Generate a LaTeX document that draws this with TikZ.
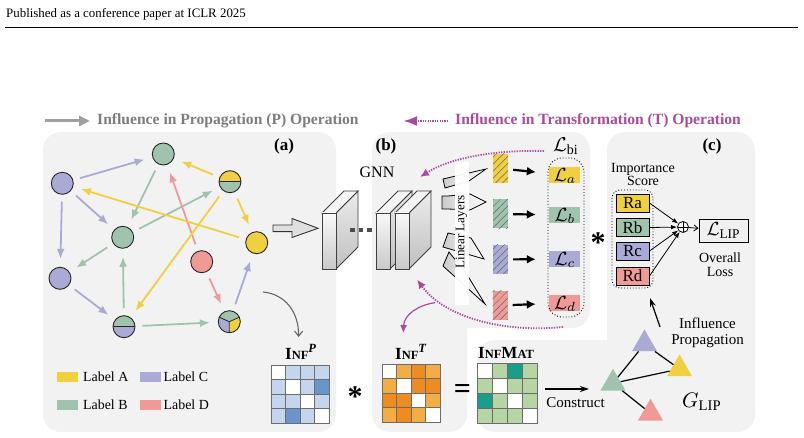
\documentclass[tikz,border=0pt]{standalone}
\usepackage{graphicx}
\usepackage{fontspec}
\setmainfont{Liberation Serif}
\usetikzlibrary{arrows.meta,shapes.geometric,patterns.meta}

\definecolor{cA}{RGB}{240,208,64}
\definecolor{cB}{RGB}{159,195,173}
\definecolor{cC}{RGB}{170,170,214}
\definecolor{cD}{RGB}{240,154,152}
\definecolor{panel}{RGB}{242,242,242}
\definecolor{mag}{RGB}{170,75,155}
\definecolor{ltxt}{RGB}{125,125,125}
\definecolor{bl}{RGB}{197,213,238}
\definecolor{bd}{RGB}{106,148,204}
\definecolor{ol}{RGB}{242,173,68}
\definecolor{od}{RGB}{238,140,34}
\definecolor{gl}{RGB}{181,213,165}
\definecolor{gd}{RGB}{26,158,140}

\newcommand\fsz[1]{\fontsize{#1}{#1}\selectfont}
\newcommand\bigmath[2]{{\fsz{10}\scalebox{#1}{$#2$}}}
\newcommand\drawmat[4]{%
  \foreach \cc [count=\k from 0] in {#4} {%
    \pgfmathtruncatemacro\rr{div(\k,4)}%
    \pgfmathtruncatemacro\qq{mod(\k,4)}%
    \filldraw[fill=\cc, draw=gray!85!black, line width=0.7pt] ({#1+\qq*#3},{#2+\rr*#3}) rectangle ++(#3,#3);%
  }}
\newcommand\gnnslab[1]{%
  \path[draw=black!75, line width=0.8pt, top color=gray!15, bottom color=gray!50] ({#1+14},213) -- ({#1+36},191) -- ({#1+36},247) -- ({#1+14},269) -- cycle;
  \path[draw=black!75, line width=0.8pt, fill=gray!8] (#1,213) -- ({#1+22},191) -- ({#1+36},191) -- ({#1+14},213) -- cycle;
  \path[draw=black!75, line width=0.8pt, top color=gray!5, bottom color=gray!42] (#1,213) rectangle ({#1+14},269);
}
\newcommand\myINF{{\fsz{17}I}{\fsz{12.5}NF}}

\begin{document}
\begin{tikzpicture}[x=1pt,y=-1pt,
  gnode/.style={circle, minimum size=22pt, inner sep=0, draw=black!85, line width=0.9pt},
  ed/.style={line width=1.8pt, -{Latex[length=10pt,width=8pt]}, shorten <=7pt, shorten >=8pt},
  hbox/.style={minimum width=15pt, minimum height=29pt, inner sep=0,
     postaction={pattern={Lines[angle=45,distance=5pt,line width=0.5pt]}, pattern color=gray!80!black}},
  lbox/.style={minimum width=31pt, minimum height=16pt, inner sep=0},
  rbox/.style={draw=black, line width=0.9pt, minimum width=33pt, minimum height=18pt, inner sep=0, font=\fsz{17}},
  bigarr/.style={line width=2.2pt, -{Latex[length=9pt,width=9pt]}, shorten <=5pt, shorten >=13pt},
  tri/.style={regular polygon, regular polygon sides=3, minimum size=29pt, inner sep=0},
  magd/.style={mag, line width=1.8pt, dash pattern=on 1.3pt off 1.3pt, -{Latex[length=9pt,width=8pt]}},
  wedge/.style={draw=black, line width=0.8pt, left color=gray!40, right color=white},
  ttl/.style={font=\fsz{15.6}\bfseries, anchor=west, inner sep=0}
]
\useasboundingbox (0,0) rectangle (804,438);
\fill[white] (0,0) rectangle (804,438);

% header
\node[anchor=base west, inner sep=0, font=\fsz{12.9}] (hdr) at (6,18) {Published as a conference paper at ICLR 2025};
\draw[line width=0.9pt] (5,27) -- (798,27);

% top legends
\coordinate (pa1) at (45,121); \coordinate (pa2) at (90,121);
\draw[gray!75, line width=3pt, -{Triangle[length=11pt,width=10pt]}] (pa1) -- (pa2);
\node[ttl, text=ltxt] (ptitle) at (97,121) {Influence in Propagation (P) Operation};
\coordinate (ta1) at (448,121); \coordinate (ta2) at (403,121);
\draw[mag, line width=2.4pt, dash pattern=on 1.2pt off 1.2pt, -{Latex[length=14pt,width=10pt]}] (ta1) -- (ta2);
\node[ttl, text=mag] (ttitle) at (455,121) {Influence in Transformation (T) Operation};

% panels
\fill[panel, rounded corners=18] (43,132) rectangle (336,432);
\fill[panel, rounded corners=18] (372,132) rectangle (590,328);
\fill[panel, rounded corners=18] (372,250) rectangle (467,432);
\fill[panel, rounded corners=18] (607,132) rectangle (755,432);
\fill[panel, rounded corners=18] (477,340) rectangle (755,432);

\node[font=\fsz{17}\bfseries] (la) at (284,146) {(a)};
\node[font=\fsz{17}\bfseries] (lb) at (386,146) {(b)};
\node[font=\fsz{17}\bfseries] (lc) at (712,146) {(c)};

% ---- panel (a) graph
\node[gnode, fill=cB] (g1) at (163.3,154) {};
\node[gnode, fill=cC] (p1) at (62.3,183.3) {};
\node[gnode, path picture={
   \fill[cA] (path picture bounding box.north west) rectangle (path picture bounding box.east);
   \fill[cB] (path picture bounding box.west) rectangle (path picture bounding box.south east);
   \draw[line width=0.8pt] (path picture bounding box.west) -- (path picture bounding box.east);}] (h1) at (230,181.7) {};
\node[gnode, fill=cB] (g2) at (122.7,237.3) {};
\node[gnode, fill=cA] (y1) at (256.7,242.7) {};
\node[gnode, fill=cD] (r1) at (201.7,261.7) {};
\node[gnode, fill=cC] (p2) at (60,278.3) {};
\node[gnode, path picture={
   \fill[cB] (path picture bounding box.north west) rectangle (path picture bounding box.east);
   \fill[cC] (path picture bounding box.west) rectangle (path picture bounding box.south east);
   \draw[line width=0.8pt] (path picture bounding box.west) -- (path picture bounding box.east);}] (h2) at (124,326.7) {};
\node[gnode, path picture={
   \coordinate (ctr) at (path picture bounding box.center);
   \fill[cB] (ctr) -- ++(-20pt,9pt) -- ++(0pt,14pt) -- ++(40pt,0pt) -- ++(0pt,-14pt) -- cycle;
   \fill[cC] (ctr) -- ++(-20pt,9pt) -- ++(0pt,-40pt) -- ++(20pt,0pt) -- cycle;
   \fill[cA] (ctr) -- ++(20pt,9pt) -- ++(0pt,-40pt) -- ++(-20pt,0pt) -- cycle;
   \draw[line width=0.8pt] (ctr) -- ++(-20pt,9pt) (ctr) -- ++(20pt,9pt) (ctr) -- ++(0pt,-20pt);}] (t1) at (229.3,321.7) {};

\draw[ed, cC] (p1) -- (g1);
\draw[ed, cC] (p1) -- (g2);
\draw[ed, cC] (p1) -- (p2);
\draw[ed, cC] (p2) -- (h2);
\draw[ed, cC] (t1) -- (y1);
\draw[ed, cB] (g1) -- (g2);
\draw[ed, cB] (g2) -- (h1);
\draw[ed, cB] (g2) -- (p2);
\draw[ed, cB] (h2) -- (g2);
\draw[ed, cB] (h2) -- (t1);
\draw[ed, cD] (r1) -- (g1);
\draw[ed, cD] (r1) -- (t1);
\draw[ed, cA] (h1) -- (g1);
\draw[ed, cA] (y1) -- (p1);
\draw[ed, cA] (h1) -- (y1);
\draw[ed, cA] (h1) -- (h2);

% legend
\fill[cA] (57,372) rectangle (78,382);
\node[anchor=west, inner sep=0, font=\fsz{13.9}] (lga) at (83,376.5) {Label A};
\fill[cC] (140,372) rectangle (161,382);
\node[anchor=west, inner sep=0, font=\fsz{13.9}] (lgc) at (163.5,376.5) {Label C};
\fill[cB] (57,400) rectangle (78,410.5);
\node[anchor=west, inner sep=0, font=\fsz{13.9}] (lgb) at (83,404.5) {Label B};
\fill[cD] (140,400) rectangle (161,410.5);
\node[anchor=west, inner sep=0, font=\fsz{13.9}] (lgd) at (163.5,404.5) {Label D};

% gray curved arrow to INF^P
\coordinate (gca) at (263,292); \coordinate (gcb) at (298.5,337);
\draw[gray!80!black, line width=1.1pt, -{Straight Barb[length=5pt,width=8pt]}] (gca) .. controls (285,294) and (299,312) .. (gcb);

% INF^P
\node[anchor=base west, inner sep=0, font=\bfseries] (infp) at (285,360) {\myINF\raisebox{7pt}{\fsz{12.5}\bfseries\itshape P}};
\drawmat{271}{365}{14.5}{white,bl,bl,bl, bl,white,bl,bd, bl,bl,white,bl, bl,bd,bl,white}

\node[font=\fsz{30}\bfseries, inner sep=0] (star1) at (355,397) {*};

% big arrow into GNN
\path[draw=black!80, fill=gray!25, line width=0.9pt] (273,225) -- (292,225) -- (292,218.5) -- (318,228.3) -- (292,237.5) -- (292,231.7) -- (273,231.7) -- cycle;

% ---- panel (b)
\gnnslab{322}
\foreach \dx in {350,358.5,367} \fill[black!70] (\dx,228) rectangle ++(4.5,4.5);
\gnnslab{376}
\gnnslab{395}
\node[font=\fsz{16}] (gnn) at (377,172) {GNN};

% linear layers
\path[wedge] (443,179) -- (486,169) -- (469,181) -- (445,188) -- cycle;
\path[wedge] (442,196) -- (448,196) -- (470,194) -- (486,202) -- (470,210) -- (448,209) -- (442,209) -- cycle;
\path[wedge] (448,233) -- (471,238) -- (484,259) -- (443,247) -- cycle;
\path[wedge] (449,252) -- (466,273) -- (485,304) -- (443,266) -- cycle;
\fill[white, opacity=0.95] (455,162) rectangle (469,305);
\node[rotate=90, font=\fsz{13.1}, inner sep=0] (linl) at (461.5,232) {Linear Layers};

% hatched embeddings
\node[hbox, fill=cA] (ea) at (500.5,168.5) {};
\node[hbox, fill=cB] (eb) at (500.5,214) {};
\node[hbox, fill=cC] (ec) at (500.5,259.5) {};
\node[hbox, fill=cD] (edd) at (500,305.5) {};

% loss boxes
\node[lbox, fill=cA] (lla) at (564.5,175) {};
\node[lbox, fill=cB] (llb) at (564.5,215) {};
\node[lbox, fill=cC] (llc) at (564.5,259) {};
\node[lbox, fill=cD] (lld) at (564.5,303) {};
\node[inner sep=0] (tla) at (565,176) {\bigmath{1.9}{\mathcal{L}_a}};
\node[inner sep=0] (tlb) at (565,216) {\bigmath{1.9}{\mathcal{L}_b}};
\node[inner sep=0] (tlc) at (565,260) {\bigmath{1.9}{\mathcal{L}_c}};
\node[inner sep=0] (tld) at (565,304) {\bigmath{1.9}{\mathcal{L}_d}};
\draw[bigarr] (ea) -- (lla);
\draw[bigarr] (eb) -- (llb);
\draw[bigarr] (ec) -- (llc);
\draw[bigarr] (edd) -- (lld);
\draw[dotted, line width=0.9pt, rounded corners=14] (548,158) rectangle (584,317);
\node[inner sep=0] (lbi) at (566,146) {\bigmath{2}{\mathcal{L}_{\mathrm{bi}}}};

% magenta curves
\coordinate (m1s) at (544,151); \coordinate (m1e) at (420,177);
\draw[magd] (m1s) .. controls (505,150) and (455,155) .. (m1e);
\coordinate (m2s) at (563,327); \coordinate (m2e) at (417,279.5);
\draw[magd] (m2s) .. controls (505,333) and (445,318) .. (m2e);
\coordinate (m3s) at (435,302.7); \coordinate (m3e) at (403.3,333);
\draw[mag, line width=1.2pt, -{Latex[length=8pt,width=7pt]}] (m3s) .. controls (418,305) and (404,315) .. (m3e);

% INF^T
\node[anchor=base west, inner sep=0, font=\bfseries] (inft) at (395,359.5) {\myINF\raisebox{7pt}{\fsz{12.5}\bfseries\itshape T}};
\drawmat{382}{364}{14.6}{white,ol,od,ol, ol,white,od,od, od,od,white,ol, ol,od,ol,white}
\node[font=\fsz{30}\bfseries, inner sep=0] (eq) at (462.5,391.5) {=};

% INFMAT
\node[anchor=base west, inner sep=0, font=\bfseries] (infm) at (478,358.5) {{\fsz{17}I}{\fsz{12.5}NF}{\fsz{17}M}{\fsz{12.5}AT}};
\drawmat{477}{363}{15}{white,gl,gd,gl, gl,white,gl,gl, gd,gl,white,gl, gl,gl,gl,white}
\coordinate (cs1) at (545,389); \coordinate (cs2) at (589,389);
\draw[line width=1.2pt, -{Stealth[length=9pt,width=6pt]}] (cs1) -- (cs2);
\node[font=\fsz{15}, inner sep=0] (constr) at (575.5,403) {Construct};

% ---- panel (c)
\node[font=\fsz{30}\bfseries, inner sep=0] (star2) at (598,243) {*};
\node[align=center, font=\fsz{14}, inner sep=0] (imp) at (643,174.5) {Importance\\[-0.4pt]Score};
\node[rbox, fill=cA] (ra) at (632.5,203) {Ra};
\node[rbox, fill=cB] (rb) at (632.5,227.5) {Rb};
\node[rbox, fill=cC] (rc) at (632.5,251) {Rc};
\node[rbox, fill=cD] (rd) at (632.5,276) {Rd};
\draw[dotted, line width=0.9pt, rounded corners=8] (612,190) rectangle (653,288);
\node[circle, draw, line width=0.8pt, minimum size=11pt, inner sep=0, fill=white,
  path picture={\draw[line width=0.8pt] (path picture bounding box.north) -- (path picture bounding box.south) (path picture bounding box.west) -- (path picture bounding box.east);}] (plus) at (683,227) {};
\foreach \r in {ra,rb,rc,rd} \draw[line width=0.8pt, -{Latex[length=6pt,width=4.5pt]}] (\r.east) -- (plus);
\node[draw, line width=0.9pt, fill=gray!12, minimum width=49pt, minimum height=23pt, inner sep=0] (llip) at (723.5,230.5) {\bigmath{1.9}{\mathcal{L}_{\mathrm{LIP}}}};
\draw[line width=0.8pt, -{Straight Barb[length=4pt,width=6pt]}] (plus) -- (llip);
\node[align=center, font=\fsz{14}, inner sep=0] (ovl) at (720,264.5) {Overall\\[0.5pt]Loss};

% G_LIP
\node[tri, fill=cB] (tg) at (613,383.3) {};
\node[tri, fill=cC] (tp) at (644.5,344) {};
\node[tri, fill=cA] (ty) at (679.5,369) {};
\node[tri, fill=cD] (tr) at (650.5,413.3) {};
\draw[line width=1.2pt] (tg) -- (tp) (tg) -- (ty) (tp) -- (ty) (tg) -- (tr);
\node[align=center, font=\fsz{15}, inner sep=0] (ip) at (707.5,332.5) {Influence\\[1pt]Propagation};
\coordinate (ipa) at (660,327); \coordinate (ipb) at (650,298);
\draw[line width=1.2pt, -{Stealth[length=9pt,width=6pt]}] (ipa) -- (ipb);
\node[inner sep=0] (glip) at (702,402) {\bigmath{2.1}{G_{\mathrm{LIP}}}};
\end{tikzpicture}
\end{document}
